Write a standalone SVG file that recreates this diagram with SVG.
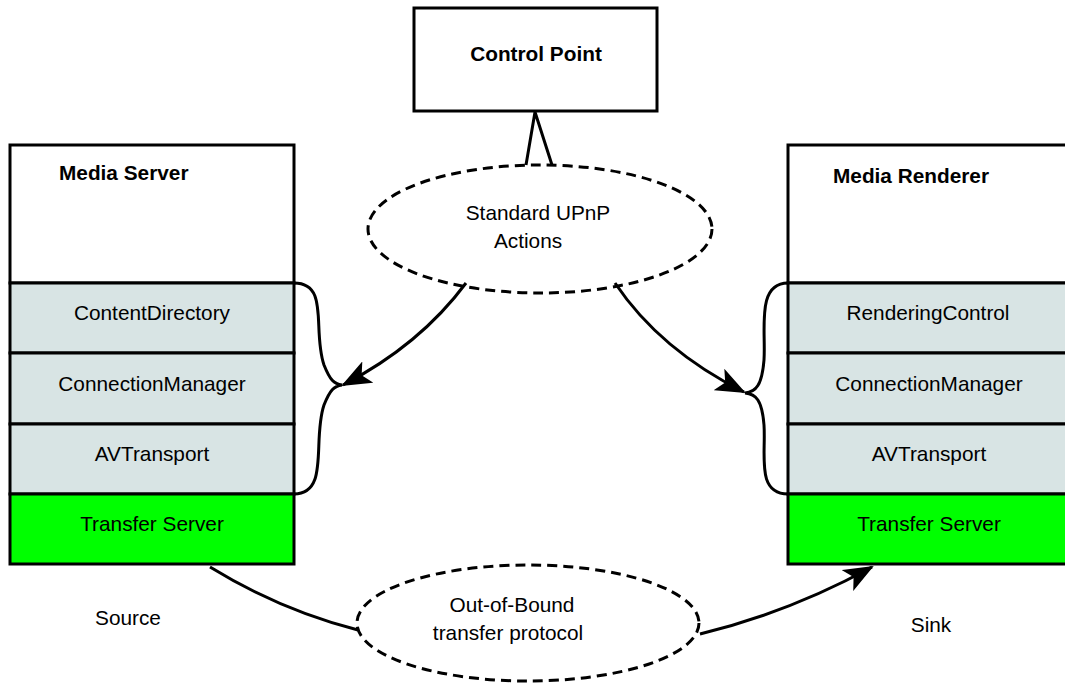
<svg xmlns="http://www.w3.org/2000/svg" width="1065" height="683" viewBox="0 0 1065 683">
<style>
.box{fill:#fff;stroke:#000;stroke-width:3}
.svc{fill:#d8e4e4;stroke:#000;stroke-width:3}
.ts{fill:#00ff00;stroke:#000;stroke-width:3}
.t{font-family:"Liberation Sans",Arial,sans-serif;font-size:20.8px;fill:#000;text-anchor:middle}
.b{font-weight:bold}
.s{text-anchor:start}
.el{fill:#fff;stroke:#000;stroke-width:3;stroke-dasharray:10 6}
.c{fill:none;stroke:#000;stroke-width:3}
</style>
<defs>
<marker id="ah" markerUnits="userSpaceOnUse" markerWidth="30" markerHeight="24" viewBox="0 0 30 24" refX="28" refY="12" orient="auto">
<path d="M0,0 L30,12 L0,24 L7,12 Z" fill="#000"/>
</marker>
</defs>
<g id="control-point">
<rect class="box" x="414" y="8" width="243" height="103"/>
<text class="t b" x="536" y="61">Control Point</text>
</g>
<g id="media-server">
<rect class="box" x="10" y="145" width="284" height="138"/>
<text class="t b s" x="59" y="180">Media Server</text>
<rect class="svc" x="10" y="283" width="284" height="70"/>
<text class="t" x="152" y="320">ContentDirectory</text>
<rect class="svc" x="10" y="353" width="284" height="71"/>
<text class="t" x="152" y="391">ConnectionManager</text>
<rect class="svc" x="10" y="424" width="284" height="70"/>
<text class="t" x="152" y="461">AVTransport</text>
<rect class="ts" x="10" y="494" width="284" height="70"/>
<text class="t" x="152" y="531">Transfer Server</text>
</g>
<g id="media-renderer">
<rect class="box" x="788" y="145" width="280" height="138"/>
<text class="t b s" x="833" y="183">Media Renderer</text>
<rect class="svc" x="788" y="283" width="280" height="70"/>
<text class="t" x="928" y="320">RenderingControl</text>
<rect class="svc" x="788" y="353" width="280" height="71"/>
<text class="t" x="929" y="391">ConnectionManager</text>
<rect class="svc" x="788" y="424" width="280" height="70"/>
<text class="t" x="929" y="461">AVTransport</text>
<rect class="ts" x="788" y="494" width="280" height="70"/>
<text class="t" x="929" y="531">Transfer Server</text>
</g>
<g id="upnp-actions">
<ellipse class="el" cx="540" cy="229" rx="172" ry="64"/>
<text class="t" x="538" y="220">Standard UPnP</text>
<text class="t" x="528" y="248">Actions</text>
</g>
<g id="out-of-bound">
<ellipse class="el" cx="528" cy="623" rx="171" ry="58"/>
<text class="t" x="512" y="612">Out-of-Bound</text>
<text class="t" x="508" y="640">transfer protocol</text>
</g>
<g id="labels">
<text class="t" x="128" y="625">Source</text>
<text class="t" x="931" y="632">Sink</text>
</g>
<g id="connectors">
<path class="c" d="M526,165 L535,112 L552,165"/>
<path class="c" d="M294,283 C330,283 312,330 324,365 C330,380 334,384 342,385 C334,386 330,390 324,405 C312,440 330,494 294,494"/>
<path class="c" d="M788,283 C756,283 766,330 764,360 C762,385 756,392 745,393 C756,394 762,400 764,425 C766,455 756,494 788,494"/>
<path class="c" marker-end="url(#ah)" d="M466,283 Q420,345 343,385"/>
<path class="c" marker-end="url(#ah)" d="M615,283 Q660,350 744,392"/>
<path class="c" d="M210,567 Q280,610 358,630"/>
<path class="c" marker-end="url(#ah)" d="M700,634 Q790,612 872,567"/>
</g>
</svg>
